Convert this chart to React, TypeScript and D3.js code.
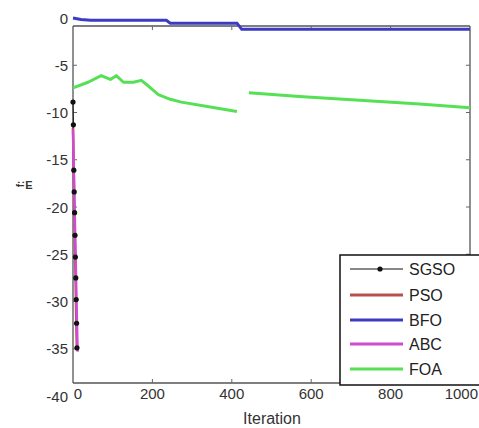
import React, { useEffect } from "react";
import * as d3 from "d3";

const xTicks = [0, 200, 400, 600, 800, 1000];
const yTicks = [0, -5, -10, -15, -20, -25, -30, -35, -40];

const sgsoIter = [0, 1, 2, 3, 4, 5, 6, 7, 8, 9, 10];
const sgsoVal = [-8.9, -11.3, -16.1, -18.4, -20.6, -23.0, -25.3, -27.5, -29.8, -32.3, -34.9];

const psoIter = [0, 1, 2, 3, 4, 5, 6, 7, 8, 9, 10];
const psoVal = [-11.6, -14.0, -16.6, -19.0, -21.5, -24.0, -26.4, -28.9, -31.4, -33.8, -35.2];

const abcIter = [0, 1, 2, 3, 4, 5, 6, 7, 8, 9, 10, 11, 12];
const abcVal = [-11.8, -13.9, -15.9, -17.9, -19.9, -22.0, -24.1, -26.1, -28.2, -30.3, -32.3, -34.3, -35.3];

const bfoIter = [0, 20, 45, 235, 245, 413, 425, 1000];
const bfoVal = [0, -0.15, -0.25, -0.25, -0.55, -0.55, -1.2, -1.2];

const foaIter = [0, 38, 71, 94, 109, 127, 152, 172, 190, 215, 245, 273, 342, 413, 430, 443, 570, 722, 873, 1000];
const foaVal = [-7.4, -6.8, -6.1, -6.5, -6.1, -6.8, -6.8, -6.6, -7.2, -8.1, -8.6, -8.9, -9.4, -9.9, NaN, -7.9, -8.3, -8.7, -9.1, -9.5];

const legendNames = ["SGSO", "PSO", "BFO", "ABC", "FOA"];
const legendColors = ["#111111", "#b84f4f", "#3b3bc4", "#d24ad2", "#55e055"];

export default function App() {
  useEffect(() => {
    document.body.style.margin = "0";
  }, []);

  const W = 479;
  const H = 428;
  const x = d3.scaleLinear().domain([0, 1000]).range([73, 470]);
  const y = d3.scaleLinear().domain([-40, 0]).range([396, 18]);

  const frameL = 73, frameT = 26, frameR = 470, frameB = 383;

  const line = d3
    .line<[number, number]>()
    .defined((d) => !isNaN(d[1]))
    .x((d) => x(d[0]))
    .y((d) => y(d[1]));

  const zip = (a: number[], b: number[]) => a.map((v, i) => [v, b[i]] as [number, number]);

  const sgso = zip(sgsoIter, sgsoVal);
  const font = "'Liberation Sans', Arial, sans-serif";

  const legX = 340, legY = 255;
  const rowY = [269, 295, 320, 344, 369];

  return (
    <svg width={W} height={H} style={{ display: "block", background: "#fff" }} fontFamily={font}>
      {/* frame */}
      <g stroke="#555" strokeWidth={1.3} fill="none">
        <line x1={frameL} y1={frameT} x2={frameR} y2={frameT} />
        <line x1={frameL} y1={frameT} x2={frameL} y2={frameB} />
        <line x1={frameR} y1={frameT} x2={frameR} y2={frameB} />
        <line x1={frameL} y1={frameB} x2={frameR} y2={frameB} />
      </g>
      {/* ticks */}
      <g stroke="#666" strokeWidth={1}>
        {xTicks.slice(1, 5).map((t) => (
          <g key={"xt" + t}>
            <line x1={x(t)} x2={x(t)} y1={frameB} y2={frameB - 4} />
            <line x1={x(t)} x2={x(t)} y1={frameT} y2={frameT + 4} />
          </g>
        ))}
        {yTicks.slice(1, 8).map((t) => (
          <g key={"yt" + t}>
            <line x1={frameL} x2={frameL + 4} y1={y(t)} y2={y(t)} />
            <line x1={frameR} x2={frameR - 4} y1={y(t)} y2={y(t)} />
          </g>
        ))}
      </g>

      {/* series */}
      <path d={line(sgso) || ""} fill="none" stroke="#111" strokeWidth={1} />
      <path d={line(zip(psoIter, psoVal)) || ""} fill="none" stroke={legendColors[1]} strokeWidth={2.5} />
      <path d={line(zip(bfoIter, bfoVal)) || ""} fill="none" stroke={legendColors[2]} strokeWidth={3} />
      <path d={line(zip(abcIter, abcVal)) || ""} fill="none" stroke={legendColors[3]} strokeWidth={2.5} />
      <path d={line(zip(foaIter, foaVal)) || ""} fill="none" stroke={legendColors[4]} strokeWidth={3} strokeLinejoin="round" />
      {sgso.map((d, i) => (
        <circle key={"s" + i} cx={x(d[0])} cy={y(d[1])} r={2.6} fill="#111" />
      ))}

      {/* tick labels */}
      <g fontSize={15} fill="#333">
        {yTicks.map((t) => (
          <text key={"yl" + t} x={68} y={y(t)} textAnchor="end" dominantBaseline="central">
            {t}
          </text>
        ))}
        {xTicks.map((t) => (
          <text
            key={"xl" + t}
            x={t === 1000 ? 478 : x(t) + (t === 0 ? 5 : 0)}
            y={393}
            textAnchor={t === 1000 ? "end" : "middle"}
            dominantBaseline="central"
          >
            {t}
          </text>
        ))}
      </g>
      <text x={272} y={418} textAnchor="middle" dominantBaseline="central" fontSize={16} fill="#333">
        Iteration
      </text>
      {/* y label (blurred glyphs) */}
      <g fill="#333">
        <text x={29} y={185} textAnchor="middle" dominantBaseline="central" fontSize={11} fontWeight="bold">
          E
        </text>
        <text x={20} y={184} textAnchor="middle" dominantBaseline="central" fontSize={10} fontWeight="bold" transform="rotate(-90 20 184)">
          f:
        </text>
      </g>

      {/* legend */}
      <rect x={legX} y={legY} width={W - legX + 10} height={frameB - legY + 2} fill="#fff" stroke="#111" strokeWidth={1.5} />
      {legendNames.map((n, i) => (
        <g key={n}>
          <line
            x1={350}
            x2={403}
            y1={rowY[i]}
            y2={rowY[i]}
            stroke={legendColors[i]}
            strokeWidth={i === 0 ? 1.2 : 3}
          />
          {i === 0 && <circle cx={380} cy={rowY[i]} r={2.6} fill="#111" />}
          <text x={409} y={rowY[i]} dominantBaseline="central" fontSize={16} fill="#222">
            {n}
          </text>
        </g>
      ))}
    </svg>
  );
}
